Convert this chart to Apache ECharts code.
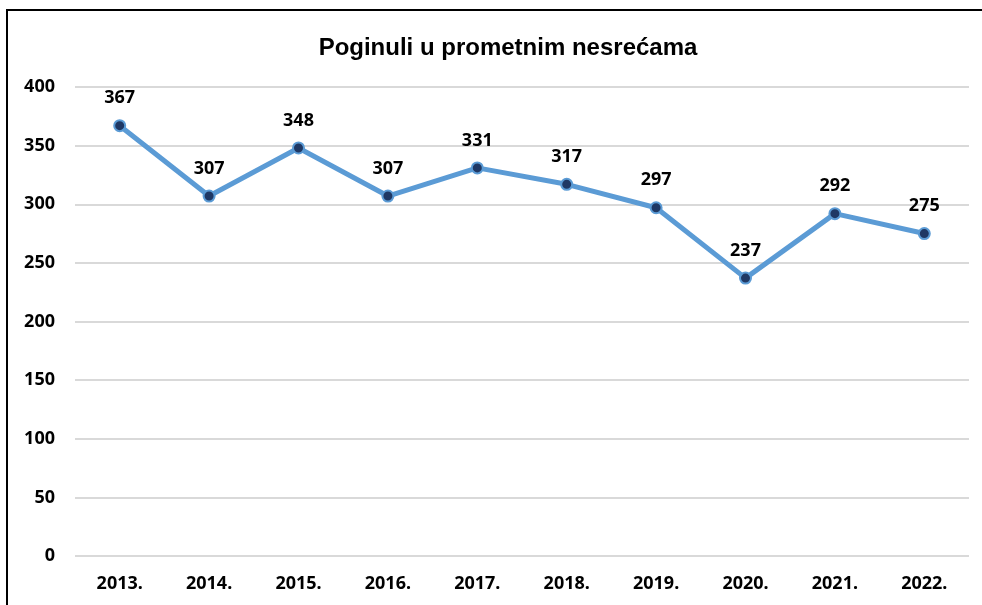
<!DOCTYPE html>
<html>
<head>
<meta charset="utf-8">
<script src="https://cdn.jsdelivr.net/npm/echarts@6/dist/echarts.min.js"></script>
<style>
  html, body { margin: 0; padding: 0; background: #fff; overflow: hidden; }
  #frame { position: absolute; left: 6px; top: 9px; width: 1000px; height: 620px; border-top: 2px solid #000; border-left: 2px solid #000; }
  #chart { position: absolute; left: 0; top: 0; width: 982px; height: 605px; }
</style>
</head>
<body>
<div id="frame"></div>
<div id="chart"></div>
<script>
var years = ['2013.', '2014.', '2015.', '2016.', '2017.', '2018.', '2019.', '2020.', '2021.', '2022.']
var killed = [367, 307, 348, 307, 331, 317, 297, 237, 292, 275]

var chart = echarts.init(document.getElementById('chart'))
chart.setOption({
  animation: false,
  title: {
    text: 'Poginuli u prometnim nesrećama',
    left: 503,
    textAlign: 'center',
    top: 31,
    textStyle: { fontFamily: 'Liberation Sans', fontWeight: 'bold', fontSize: 24, color: '#000' }
  },
  grid: { left: 75, right: 13, top: 87, bottom: 49 },
  xAxis: {
    type: 'category',
    data: years,
    boundaryGap: true,
    axisLine: { show: false },
    axisTick: { show: false },
    axisLabel: { color: '#000', fontFamily: 'Noto Sans', fontWeight: 'bold', fontSize: 18, margin: 19 }
  },
  yAxis: {
    type: 'value',
    min: 0,
    max: 400,
    interval: 50,
    axisLine: { show: false },
    axisTick: { show: false },
    splitLine: { lineStyle: { color: '#d9d9d9', width: 2 } },
    axisLabel: { color: '#000', fontFamily: 'Noto Sans', fontWeight: 'bold', fontSize: 18, margin: 20 }
  },
  series: [{
    type: 'line',
    data: killed,
    symbol: 'circle',
    symbolSize: 11,
    lineStyle: { color: '#5b9bd5', width: 5 },
    itemStyle: { color: '#1f3864', borderColor: '#5b9bd5', borderWidth: 2 },
    label: {
      show: true,
      position: 'top',
      distance: 12,
      color: '#000',
      fontFamily: 'Noto Sans',
      fontWeight: 'bold',
      fontSize: 18
    }
  }]
})
</script>
</body>
</html>
